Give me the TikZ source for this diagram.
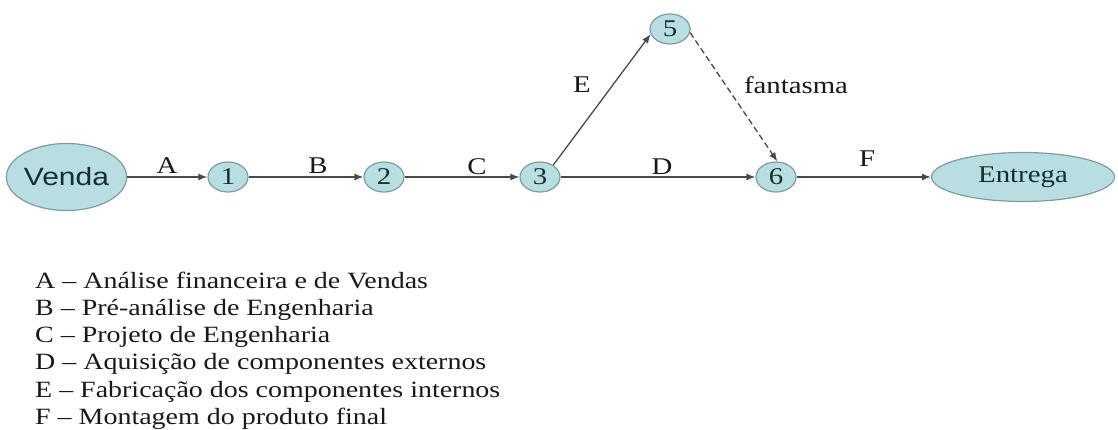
\documentclass[tikz,border=0pt]{standalone}
\usepackage{fontspec}
\setmainfont{Liberation Serif}[FakeStretch=1.2]
\newfontfamily\vsans{Liberation Sans}[FakeStretch=1.2]
\usetikzlibrary{shapes.geometric,arrows.meta}
\definecolor{nfill}{HTML}{B8DEE2}
\definecolor{nline}{HTML}{7E9DA2}
\definecolor{ntext}{HTML}{15302F}
\definecolor{eline}{HTML}{4A4A4A}
\tikzset{
  ev/.style={ellipse,draw=nline,fill=nfill,line width=1.2pt,inner sep=0pt,text=ntext},
  smallev/.style={ev,minimum width=40pt,minimum height=30pt,font=\fontsize{24}{28}\selectfont},
  edge/.style={draw=eline,line width=1.3pt,-{Latex[length=9pt,width=7pt]}},
  ghost/.style={edge,dashed,dash pattern=on 6pt off 3.5pt},
  elab/.style={font=\fontsize{24}{28}\selectfont,text=black!90,inner sep=0pt},
  leg/.style={font=\fontsize{23.3}{27}\selectfont,text=black!90,anchor=base west,inner sep=0pt}
}
\begin{document}
\begin{tikzpicture}[x=1pt,y=-1pt]
\useasboundingbox[fill=white] (0,0) rectangle (1118,429);
\node[ev,minimum width=107pt,minimum height=67pt,font=\vsans\fontsize{25}{29}\selectfont] (v) at (66.5,177) {Venda};
\node[smallev] (n1) at (228,177) {1};
\node[smallev] (n2) at (384,177) {2};
\node[smallev] (n3) at (540,177) {3};
\node[smallev] (n5) at (670,29) {5};
\node[smallev] (n6) at (776,177) {6};
\node[ev,minimum width=183pt,minimum height=49pt,font=\fontsize{24}{28}\selectfont] (en) at (1023,177) {Entrega};

\draw[edge] (v) -- (n1);
\draw[edge] (n1) -- (n2);
\draw[edge] (n2) -- (n3);
\draw[edge] (n3) -- (n6);
\draw[edge] (n6) -- (en);
\draw[edge] (n3.42) -- (n5.195);
\draw[ghost] (n5.350) -- (n6.85);

\node[elab] (lA) at (167,166) {A};
\node[elab] (lB) at (318,166) {B};
\node[elab] (lC) at (477,167) {C};
\node[elab] (lD) at (662,167) {D};
\node[elab] (lE) at (582,85) {E};
\node[elab] (lF) at (867,159) {F};
\node[elab] (lfan) at (796,85) {fantasma};

\node[leg] (g1) at (35,288) {A -- Análise financeira e de Vendas};
\node[leg] (g2) at (35,315.3) {B -- Pré-análise de Engenharia};
\node[leg] (g3) at (35,342.6) {C -- Projeto de Engenharia};
\node[leg] (g4) at (35,369.9) {D -- Aquisição de componentes externos};
\node[leg] (g5) at (35,397.2) {E -- Fabricação dos componentes internos};
\node[leg] (g6) at (35,424.5) {F -- Montagem do produto final};
\end{tikzpicture}
\end{document}
